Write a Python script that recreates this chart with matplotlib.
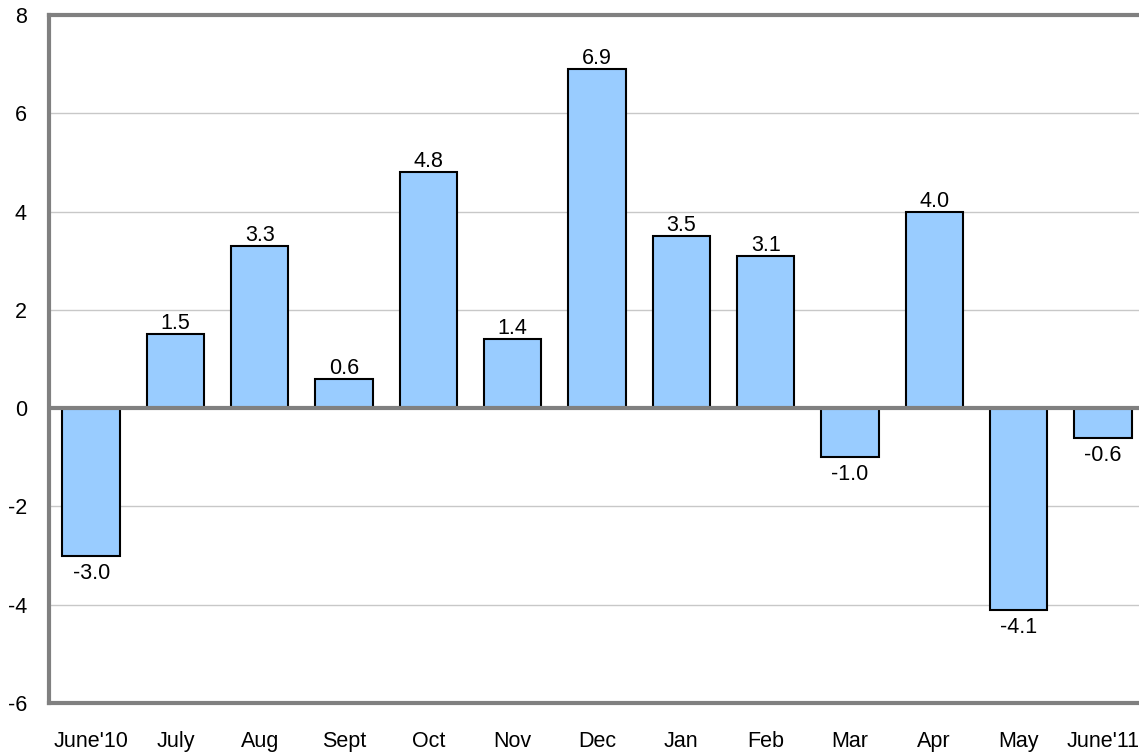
import numpy as np
import matplotlib
matplotlib.use("Agg")
import matplotlib.pyplot as plt

months = ["June'10", "July", "Aug", "Sept", "Oct", "Nov", "Dec",
          "Jan", "Feb", "Mar", "Apr", "May", "June'11"]
values = [-3.0, 1.5, 3.3, 0.6, 4.8, 1.4, 6.9, 3.5, 3.1, -1.0, 4.0, -4.1, -0.6]
yticks = [-6, -4, -2, 0, 2, 4, 6, 8]

plt.rcParams['font.family'] = ['Liberation Sans', 'DejaVu Sans']
fs = 15.5

fig = plt.figure(figsize=(11.39, 7.56), dpi=100)
ax = fig.add_axes([49 / 1139, 53 / 756, 1096 / 1139, 688 / 756])

x = np.arange(len(months))
ax.bar(x, values, width=0.68, color='#99CCFF', edgecolor='black', linewidth=1.5, zorder=3)

# value labels above / below the bars
for xi, v in zip(x, values):
    if v >= 0:
        ax.annotate(f"{v:.1f}", (xi, v), xytext=(0, 0), textcoords='offset points',
                    ha='center', va='bottom', fontsize=fs, zorder=4)
    else:
        ax.annotate(f"{v:.1f}", (xi, v), xytext=(0, -5), textcoords='offset points',
                    ha='center', va='top', fontsize=fs, zorder=4)

ax.set_xlim(-0.5, 12.5)
ax.set_ylim(-6, 8)
ax.set_yticks(yticks)
ax.set_yticklabels([str(t) for t in yticks], fontsize=fs)
ax.set_xticks(x)
ax.set_xticklabels(months, fontsize=fs)
ax.tick_params(axis='both', length=0)
ax.tick_params(axis='y', pad=16)
ax.tick_params(axis='x', pad=20)

ax.grid(axis='y', color='#C8C8C8', linewidth=1, zorder=0)
ax.axhline(0, color='#808080', linewidth=3, zorder=4)

for s in ax.spines.values():
    s.set_color('#808080')
    s.set_linewidth(3)

fig.savefig('out.png', dpi=100)
